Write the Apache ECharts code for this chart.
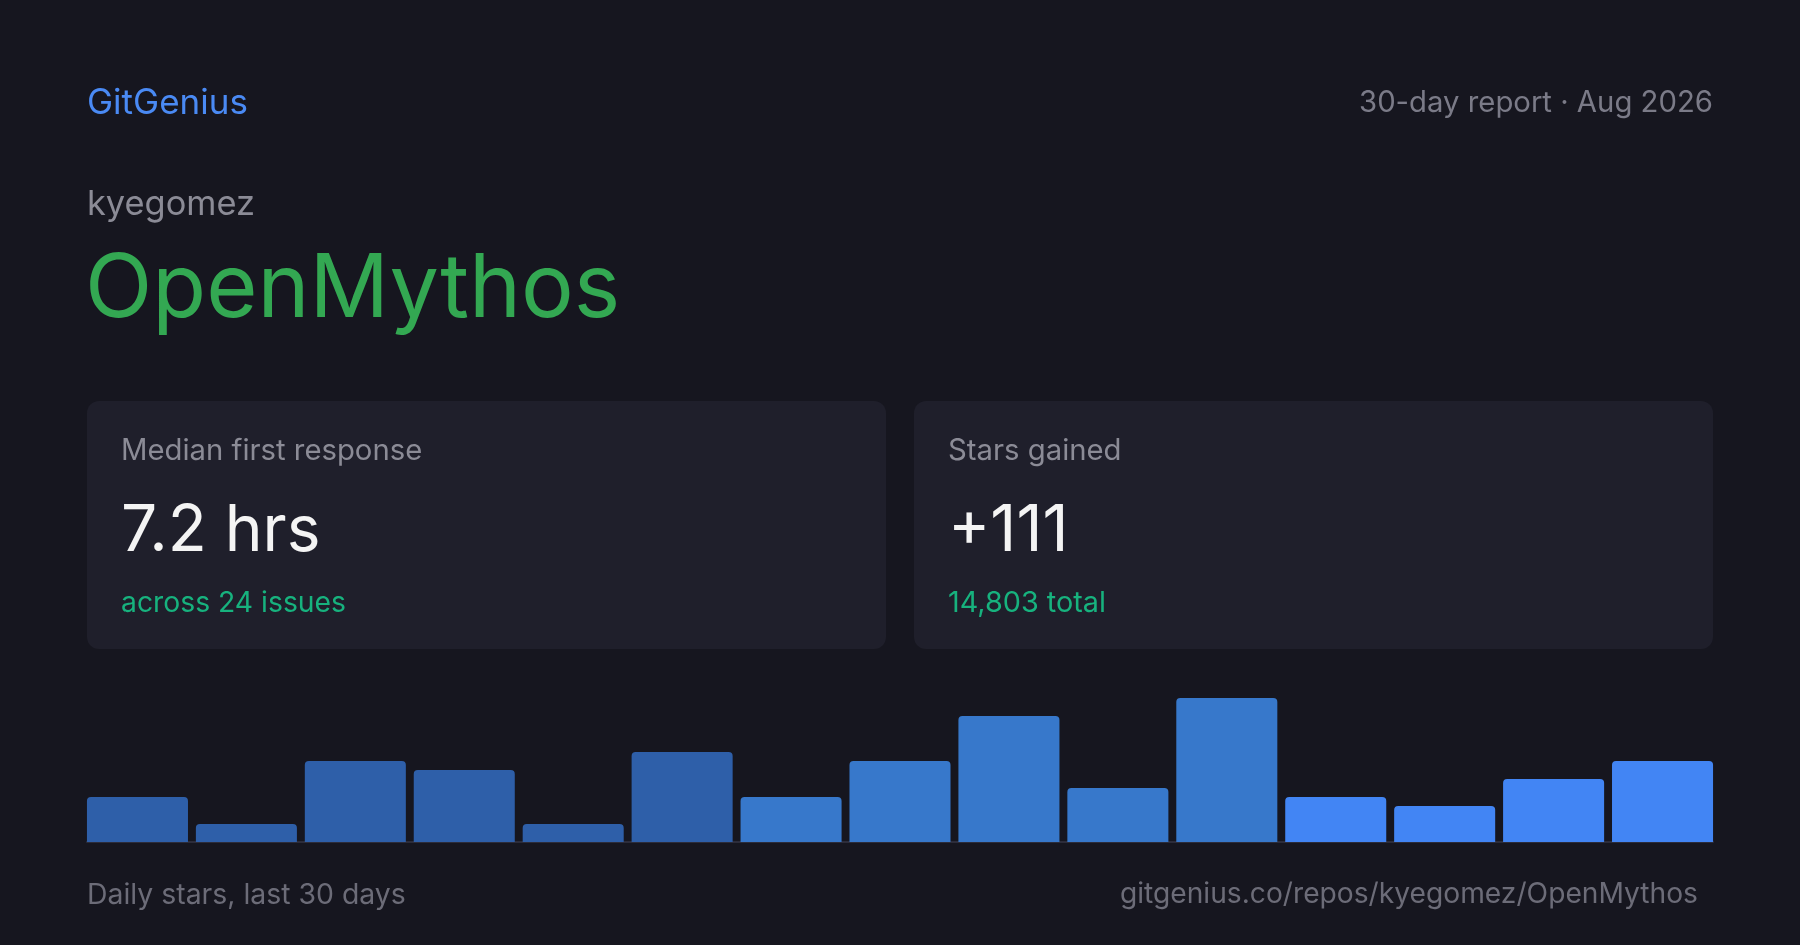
<!DOCTYPE html>
<html>
<head>
<meta charset="utf-8">
<script src="https://cdn.jsdelivr.net/npm/echarts@6/dist/echarts.min.js"></script>
<style>
html,body{margin:0;padding:0;background:#16161f;}
#chart{width:1800px;height:945px;}
</style>
</head>
<body>
<div id="chart"></div>
<script>
// Data
const periods = ['1','2','3','4','5','6','7','8','9','10','11','12','13','14','15'];
const starsPerPeriod = [5,2,9,8,2,10,5,9,14,6,16,5,4,7,9];
const brand = 'GitGenius';
const reportLabel = '30-day report · Aug 2026';
const owner = 'kyegomez';
const repo = 'OpenMythos';
const cardTitles = ['Median first response', 'Stars gained'];
const cardValues = ['7.2 hrs', '+111'];
const cardNotes = ['across 24 issues', '14,803 total'];
const footerLeft = 'Daily stars, last 30 days';
const footerRight = 'gitgenius.co/repos/kyegomez/OpenMythos';

const FONT = 'Inter, "Noto Sans", sans-serif';
const chart = echarts.init(document.getElementById('chart'));

function txt(x, y, text, size, fill, align) {
  return {
    type: 'text', x: x, y: y, silent: true,
    style: { text: text, font: '400 ' + size + 'px ' + FONT, fill: fill,
             textAlign: align || 'left', textVerticalAlign: 'middle' }
  };
}

const graphics = [
  { type: 'rect', shape: { x: 87, y: 401, width: 799, height: 248, r: 12 }, style: { fill: '#1f1f2b' }, silent: true, z: -1 },
  { type: 'rect', shape: { x: 914, y: 401, width: 799, height: 248, r: 12 }, style: { fill: '#1f1f2b' }, silent: true, z: -1 },
  txt(87, 103, brand, 35, '#4a8af4'),
  txt(1713, 103, reportLabel, 29.3, '#7b7b88', 'right'),
  txt(87, 205, owner, 34.4, '#8b8b96'),
  txt(85, 291, repo, 88, '#33a852'),
  txt(121, 451, cardTitles[0], 29.3, '#8b8b96'),
  txt(121, 532, cardValues[0], 64, '#f4f4f4'),
  txt(121, 603, cardNotes[0], 28.3, '#17b27e'),
  txt(948, 451, cardTitles[1], 29.3, '#8b8b96'),
  txt(948, 532, cardValues[1], 64, '#f4f4f4'),
  txt(948, 603, cardNotes[1], 28.8, '#17b27e'),
  txt(87, 895, footerLeft, 28.4, '#6c6c78'),
  txt(1698, 895, footerRight, 28.2, '#6c6c78', 'right')
];

const groupColors = ['#2e5fa9', '#3778cb', '#4285f4'];

chart.setOption({
  backgroundColor: '#16161f',
  animation: false,
  grid: [
    { left: 83, right: 83, top: 698, bottom: 103 },
    { left: 87, right: 87, top: 698, bottom: 103 }
  ],
  xAxis: [{
    type: 'category', data: periods, gridIndex: 0,
    axisLine: { show: false }, axisTick: { show: false }, axisLabel: { show: false }
  }, {
    type: 'category', data: periods, gridIndex: 1,
    axisLine: { show: true, lineStyle: { color: '#2c2c3a', width: 2 } },
    axisTick: { show: false }, axisLabel: { show: false }
  }],
  yAxis: [{
    type: 'value', min: 0, max: 16, gridIndex: 0,
    axisLine: { show: false }, axisTick: { show: false },
    axisLabel: { show: false }, splitLine: { show: false }
  }, {
    type: 'value', min: 0, max: 16, gridIndex: 1, show: false
  }],
  series: [{
    type: 'bar',
    data: starsPerPeriod,
    barCategoryGap: '7.25%',
    z: 3,
    itemStyle: {
      borderRadius: [4, 4, 0, 0],
      color: function (p) {
        return p.dataIndex < 6 ? groupColors[0] : (p.dataIndex < 11 ? groupColors[1] : groupColors[2]);
      }
    }
  }],
  graphic: graphics
});
</script>
</body>
</html>
